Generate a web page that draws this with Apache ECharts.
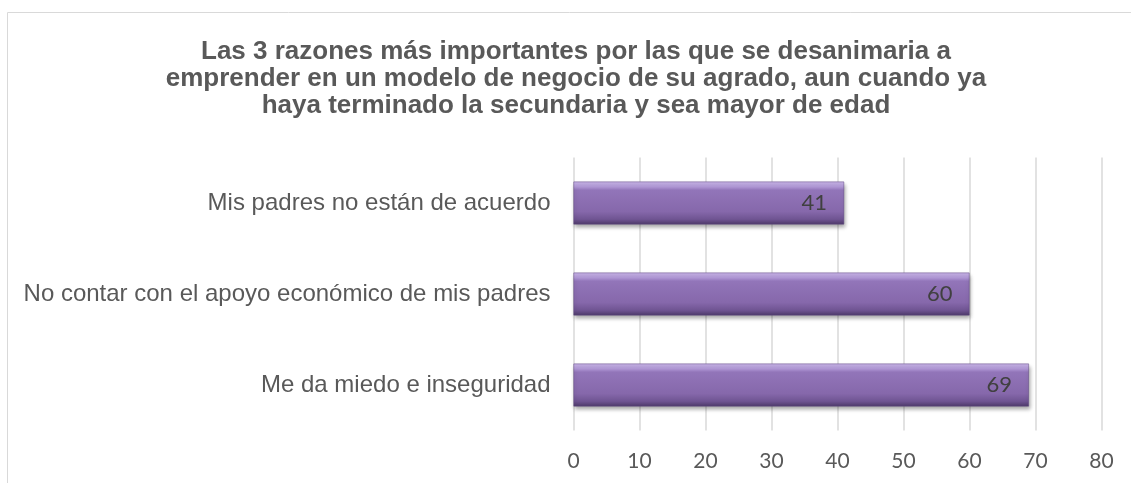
<!DOCTYPE html>
<html>
<head>
<meta charset="utf-8">
<script src="https://cdn.jsdelivr.net/npm/echarts@6/dist/echarts.min.js"></script>
<style>
  html, body { margin: 0; padding: 0; background: #fff; }
  #chart { width: 1131px; height: 483px; }
</style>
</head>
<body>
<div id="chart"></div>
<script>
// datos del gráfico
const categorias = [
  "Mis padres no están de acuerdo",
  "No contar con el apoyo económico de mis padres",
  "Me da miedo e inseguridad"
];
const valores = [41, 60, 69];
const ejeX = { min: 0, max: 80, interval: 10 };

const titulo = "Las 3 razones más importantes por las que se desanimaria a\n" +
  "emprender en un modelo de negocio de su agrado, aun cuando ya\n" +
  "haya terminado la secundaria y sea mayor de edad";

// degradado morado con efecto bisel
const morado = new echarts.graphic.LinearGradient(0, 0, 0, 1, [
  { offset: 0, color: "#c9b6e8" },
  { offset: 0.12, color: "#b39ad9" },
  { offset: 0.2, color: "#9275b9" },
  { offset: 0.7, color: "#8668ab" },
  { offset: 0.88, color: "#6f5492" },
  { offset: 1, color: "#4e3a69" }
]);

const chart = echarts.init(document.getElementById("chart"));
chart.setOption({
  animation: false,
  title: {
    text: titulo,
    left: 576,
    top: 38,
    textAlign: "center",
    padding: 0,
    textStyle: {
      fontFamily: "Liberation Sans, Arial, sans-serif",
      fontSize: 26,
      fontWeight: "bold",
      color: "#595959",
      lineHeight: 27
    }
  },
  graphic: [
    {
      type: "rect",
      shape: { x: 7.5, y: 12.5, width: 1200, height: 600 },
      style: { fill: "none", stroke: "#d9d9d9", lineWidth: 1 },
      silent: true
    }
  ],
  grid: {
    left: 573.5,
    right: 29.5,
    top: 157.5,
    bottom: 52.5
  },
  xAxis: {
    type: "value",
    min: ejeX.min,
    max: ejeX.max,
    interval: ejeX.interval,
    axisLine: { show: false },
    axisTick: { show: false },
    axisLabel: {
      margin: 20,
      fontFamily: "Lato, sans-serif",
      fontSize: 21,
      color: "#595959"
    },
    splitLine: { lineStyle: { color: "#d9d9d9", width: 1.5 } }
  },
  yAxis: {
    type: "category",
    inverse: true,
    data: categorias,
    axisLine: { show: false },
    axisTick: { show: false },
    axisLabel: {
      margin: 23,
      fontFamily: "Liberation Sans, Arial, sans-serif",
      fontSize: 24,
      color: "#595959"
    }
  },
  series: [
    {
      type: "bar",
      data: valores,
      barCategoryGap: "53%",
      itemStyle: {
        color: morado,
        borderColor: "#5e4780",
        borderWidth: 0.5,
        shadowColor: "rgba(0,0,0,0.35)",
        shadowBlur: 4,
        shadowOffsetX: 1,
        shadowOffsetY: 3
      },
      label: {
        show: true,
        position: "insideRight",
        distance: 17,
        fontFamily: "Lato, sans-serif",
        fontSize: 22,
        color: "#404040"
      }
    }
  ]
});
window.addEventListener("resize", () => chart.resize());
</script>
</body>
</html>
